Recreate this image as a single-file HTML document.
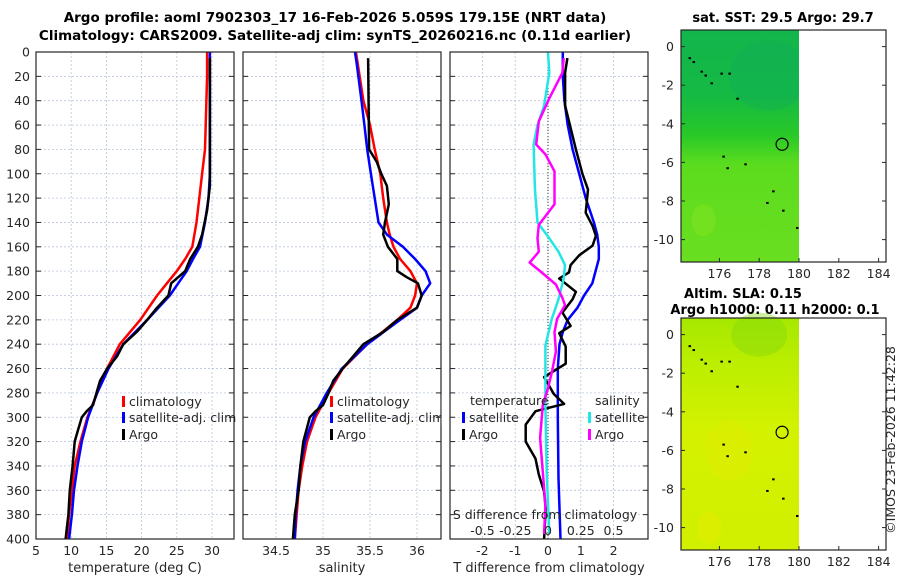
<!DOCTYPE html>
<html><head><meta charset="utf-8">
<style>
html,body{margin:0;padding:0;background:#fff;}
svg{display:block;font-family:"DejaVu Sans","Liberation Sans",sans-serif;}
</style></head>
<body>
<svg id="fig" width="900" height="580" viewBox="0 0 900 580">
<text x="335" y="22" font-size="13.5" font-weight="bold" text-anchor="middle">Argo profile: aoml 7902303_17 16-Feb-2026 5.059S 179.15E (NRT data)</text>
<text x="335" y="40" font-size="13.5" font-weight="bold" text-anchor="middle">Climatology: CARS2009. Satellite-adj clim: synTS_20260216.nc (0.11d earlier)</text>
<g id="g"></g>
</svg>
<script>
// depth levels (m)
const depthClim = [0,20,40,60,80,100,120,140,160,170,180,190,200,220,240,260,280,300,320,340,360,380,400];
const tempClim  = [29.3,29.3,29.2,29.1,29.0,28.6,28.2,27.8,27.2,26.2,25.0,23.6,22.2,19.8,16.9,15.1,13.7,12.3,11.3,10.5,10.1,9.7,9.4];
const tempSat   = [29.7,29.7,29.7,29.7,29.7,29.7,29.5,29.0,28.3,27.3,26.4,25.2,24.0,20.8,17.4,15.3,13.7,12.4,11.5,10.9,10.4,10.1,9.7];
const depthArgoT = [5,50,110,130,150,160,170,180,185,190,200,210,220,230,240,250,260,270,280,290,295,300,310,320,340,360,380,400];
const tempArgo   = [29.7,29.7,29.7,29.3,28.6,28.0,26.9,26.2,25.2,24.2,23.8,22.2,20.8,19.3,17.4,16.5,15.1,14.1,13.6,13.1,12.2,11.5,11.0,10.5,10.2,9.8,9.6,9.2];
const depthS = [0,10,40,60,80,100,120,140,150,160,170,180,190,200,210,220,240,260,280,300,320,340,360,380,400];
const salClim = [35.35,35.37,35.43,35.5,35.55,35.61,35.64,35.68,35.71,35.75,35.82,35.93,36.0,35.98,35.93,35.79,35.47,35.21,35.06,34.92,34.83,34.78,34.74,34.72,34.70];
const salSat  = [35.34,35.36,35.41,35.44,35.47,35.51,35.55,35.59,35.68,35.85,35.98,36.09,36.14,36.05,36.0,35.82,35.47,35.2,35.04,34.9,34.81,34.76,34.73,34.71,34.70];
const depthArgoS = [5,80,90,100,110,125,140,150,160,170,180,185,190,200,210,220,230,240,250,260,270,280,290,295,300,320,340,360,380,400];
const salArgo    = [35.48,35.49,35.57,35.62,35.68,35.7,35.66,35.64,35.69,35.79,35.79,35.89,36.01,36.05,36.0,35.79,35.64,35.43,35.32,35.21,35.11,35.06,35.0,34.92,34.86,34.79,34.76,34.74,34.7,34.68];
// differences from climatology
const depthDT = [0,20,40,60,80,100,120,140,150,160,170,180,190,200,210,220,230,240,260,300,350,400];
const dTSat   = [0.45,0.45,0.5,0.6,0.75,0.95,1.15,1.4,1.5,1.55,1.55,1.45,1.35,1.1,0.9,0.6,0.45,0.35,0.3,0.3,0.32,0.38];
const depthDTA = [5,17,44,80,100,113,132,143,151,159,167,175,181,186,197,203,214,225,231,242,256,267,281,289,295,306,320,334,347,361,375,400];
const dTArgo   = [0.59,0.52,0.52,0.85,1.05,1.22,1.15,1.36,1.46,1.36,0.95,0.69,0.64,0.34,0.85,0.75,0.44,0.69,0.34,0.54,0.54,-0.12,0.18,0.49,-0.38,-0.68,-0.68,-0.38,-0.28,-0.12,-0.07,-0.12];
const depthDSA = [5,17,38,57,76,84,98,112,125,142,153,164,173,180,191,202,208,219,230,246,263,276,290,317,345,372,396];
const dSArgo   = [0.12,0.11,0.01,-0.07,-0.09,-0.02,0.05,0.05,0.05,-0.07,-0.08,-0.07,-0.14,-0.06,0.06,0.11,0.13,0.07,0.05,0.06,0.03,0.0,-0.04,-0.06,-0.04,-0.02,-0.03];
const depthDSS = [0,17,44,60,76,112,140,153,164,175,186,203,219,241,263,290,345,396];
const dSSat    = [0.0,0.01,-0.03,-0.08,-0.11,-0.10,-0.08,0.01,0.08,0.13,0.12,0.08,0.03,-0.02,-0.02,-0.02,-0.01,0.01];
const depthTicks = [0,20,40,60,80,100,120,140,160,180,200,220,240,260,280,300,320,340,360,380,400];
const tempTicks = [5,10,15,20,25,30];
const salTicks = [34.5,35,35.5,36];
const salTickLabels = ["34.5","35","35.5","36"];
const dTTicks = [-2,-1,0,1,2];
const dSTicks = [-0.5,-0.25,0,0.25,0.5];
const dSTickLabels = ["-0.5","-0.25","0","0.25","0.5"];
const lonTicks = [176,178,180,182,184];
const latTicks = [0,-2,-4,-6,-8,-10];

const NS="http://www.w3.org/2000/svg";
const G=document.getElementById('g');
function mk(tag,attrs,parent){const e=document.createElementNS(NS,tag);for(const k in attrs)e.setAttribute(k,attrs[k]);(parent||G).appendChild(e);return e;}
function txt(x,y,s,size,anchor,parent){const e=mk('text',{x:x,y:y,'font-size':size,'text-anchor':anchor||'middle',fill:'#262626'},parent);e.textContent=s;return e;}

const TOP=52,BOT=539;
const yD=d=>TOP+(d-0)*(BOT-TOP)/400;

function panel(name,x0,x1,xf,ticks,labels,xlabel){
  const p=mk('g',{});
  
  
  depthTicks.forEach(d=>{const l=mk('line',{x1:x0,x2:x1,y1:yD(d),y2:yD(d),stroke:'#b8c4dc','stroke-width':0.8,'stroke-dasharray':'2,2'},p);
    
    mk('line',{x1:x0,x2:x0+5,y1:yD(d),y2:yD(d),stroke:'#262626'},p);mk('line',{x1:x1-5,x2:x1,y1:yD(d),y2:yD(d),stroke:'#262626'},p);});
  ticks.forEach((t,i)=>{const x=xf(t);const l=mk('line',{x1:x,x2:x,y1:TOP,y2:BOT,stroke:'#b8c4dc','stroke-width':0.8,'stroke-dasharray':'2,2'},p);
    
    if(labels){const tl=txt(x,555,labels[i],12.5,'middle',p);}});
  if(xlabel){const xl=txt((x0+x1)/2,572,xlabel,13,'middle',p);}
  return p;
}
function frame(p,x0,x1){const r=mk('rect',{x:x0,y:TOP,width:x1-x0,height:BOT-TOP,fill:'none',stroke:'#262626','stroke-width':1.2},p);
  }
function line(p,xs,ds,xf,color,w,name){
  const pts=xs.map((v,i)=>xf(v).toFixed(1)+','+yD(ds[i]).toFixed(1)).join(' ');
  const e=mk('polyline',{points:pts,fill:'none',stroke:color,'stroke-width':w,'stroke-linejoin':'round'},p);
  return e;}
function legend(p,x,y,color,label,name){
  mk('rect',{x:x,y:y-9,width:3,height:11,fill:color},p);
  const t=txt(x+7,y+1,label,12.5,'start',p);
  }

depthTicks.forEach(d=>{const t=txt(30,yD(d)+4.5,String(d),12.5,'end');
  });

const xT=t=>36+(t-5)*7.04;
const p1=panel('temperature-panel',36,234,xT,tempTicks,tempTicks.map(String),'temperature (deg C)');
line(p1,tempClim,depthClim,xT,'#ff0000',2.5,'temp-climatology-line');
line(p1,tempSat,depthClim,xT,'#0000ff',2.5,'temp-satellite-line');
line(p1,tempArgo,depthArgoT,xT,'#000000',2.5,'temp-argo-line');
frame(p1,36,234);
legend(p1,122,405,'#ff0000','climatology','legend-climatology');
legend(p1,122,421,'#0000ff','satellite-adj. clim','legend-satellite-adj');
legend(p1,122,438,'#000000','Argo','legend-argo');

const xS=s=>323+(s-35)*94;
const p2=panel('salinity-panel',243,441,xS,salTicks,salTickLabels,'salinity');
line(p2,salClim,depthS,xS,'#ff0000',2.5,'sal-climatology-line');
line(p2,salSat,depthS,xS,'#0000ff',2.5,'sal-satellite-line');
line(p2,salArgo,depthArgoS,xS,'#000000',2.5,'sal-argo-line');
mk('rect',{x:441.6,y:395,width:8,height:30,fill:'#fff'});
frame(p2,243,441);
legend(p2,330,405,'#ff0000','climatology','legend-climatology-2');
legend(p2,330,421,'#0000ff','satellite-adj. clim','legend-satellite-adj-2');
legend(p2,330,438,'#000000','Argo','legend-argo-2');

const xDT=t=>548+t*32.8;
const xDS=s=>548+s*131;
const p3=panel('difference-panel',450,648,xDT,dTTicks,dTTicks.map(String),'T difference from climatology');
const zl=mk('line',{x1:548,x2:548,y1:TOP,y2:BOT,stroke:'#333','stroke-width':1,'stroke-dasharray':'1,2'},p3);

line(p3,dTSat,depthDT,xDT,'#0000ff',2.5,'dT-satellite-line');
line(p3,dTArgo,depthDTA,xDT,'#000000',2.5,'dT-argo-line');
line(p3,dSSat,depthDSS,xDS,'#22e6e6',2.5,'dS-satellite-line');
line(p3,dSArgo,depthDSA,xDS,'#ff00ff',2.5,'dS-argo-line');
frame(p3,450,648);
const tt=txt(470,405,'temperature',12.5,'start',p3);
const st=txt(595,405,'salinity',12.5,'start',p3);
legend(p3,462,421,'#0000ff','satellite','legend-t-satellite');
legend(p3,462,438,'#000000','Argo','legend-t-argo');
legend(p3,588,421,'#22e6e6','satellite','legend-s-satellite');
legend(p3,588,438,'#ff00ff','Argo','legend-s-argo');
const sdl=txt(545,519,'S difference from climatology',12.5,'middle',p3);
dSTicks.forEach((s,i)=>{const t=txt(xDS(s),535,dSTickLabels[i],12.5,'middle',p3);});

const MX0=681,MX1=886;
const lonX=l=>MX0+(l-174.07)*19.9;
function map(name,top,bot,titleLines,topCols,botCols){
  const m=mk('g',{});
  
  const lat0=top+16.6, latStep=(19.3);
  const latY=la=>lat0-la*latStep;
  const gid=name+'-grad';
  const defs=mk('defs',{},m);
  const lg=mk('linearGradient',{id:gid,x1:0,y1:0,x2:0,y2:1},defs);
  topCols.forEach((c,i)=>mk('stop',{offset:c[0],'stop-color':c[1]},lg));
  const r=mk('rect',{x:MX0,y:top,width:lonX(180)-MX0,height:bot-top,fill:'url(#'+gid+')'},m);
  
  botCols.forEach(b=>{mk('ellipse',{cx:lonX(b[0]),cy:latY(b[1]),rx:b[2],ry:b[3],fill:b[4],opacity:b[5]},m);});
  mk('rect',{x:lonX(180),y:top,width:MX1-lonX(180),height:bot-top,fill:'#fff'},m);
  [[174.5,-0.6],[174.7,-0.8],[175.1,-1.3],[175.3,-1.5],[175.6,-1.9],[176.1,-1.4],[176.5,-1.4],[176.9,-2.7],[176.2,-5.7],[176.4,-6.3],[177.3,-6.1],[178.7,-7.5],[178.4,-8.1],[179.2,-8.5],[179.9,-9.4]].forEach(p=>{
    mk('rect',{x:lonX(p[0])-1,y:latY(p[1])-1,width:2.5,height:2,fill:'#000'},m);});
  const c=mk('circle',{cx:lonX(179.15),cy:latY(-5.06),r:6,fill:'none',stroke:'#000','stroke-width':1.2},m);
  
  const f=mk('rect',{x:MX0,y:top,width:MX1-MX0,height:bot-top,fill:'none',stroke:'#262626','stroke-width':1.2},m);
  
  latTicks.forEach(la=>{const y=latY(la);mk('line',{x1:MX0,x2:MX0+4,y1:y,y2:y,stroke:'#262626'},m);mk('line',{x1:MX1-4,x2:MX1,y1:y,y2:y,stroke:'#262626'},m);
    const t=txt(674,y+4.5,String(la),12.5,'end',m);});
  lonTicks.forEach(lo=>{const x=lonX(lo);mk('line',{x1:x,x2:x,y1:bot-4,y2:bot,stroke:'#262626'},m);
    const t=txt(x,bot+16,String(lo),12.5,'middle',m);});
  titleLines.forEach((s,i)=>{const t=txt(s[1],s[2],s[0],13,'middle',m);t.setAttribute('font-weight','bold');t.setAttribute('fill','#000');});
}
map('sst-map',30,262,[['sat. SST: 29.5 Argo: 29.7',783,22]],
  [[0,'#12b54c'],[0.28,'#14ba44'],[0.45,'#28c828'],[0.58,'#5cdc1e'],[1,'#6ade20']],
  [[178.5,-1.5,40,35,'#10a860',0.3],[175.2,-9,12,16,'#8ee820',0.35]]);
map('sla-map',318,550,[['Altim. SLA: 0.15',743,298],['Argo h1000: 0.11 h2000: 0.1',775,314]],
  [[0,'#a6e800'],[0.2,'#bcee00'],[0.5,'#d4f200'],[1,'#d0f000']],
  [[178,0,28,22,'#80d810',0.4],[176.5,-6,24,30,'#e4ec00',0.4],[175.5,-10,12,16,'#eeea00',0.4]]);
const cp=mk('text',{x:0,y:0,'font-size':12.5,fill:'#262626','text-anchor':'middle',transform:'translate(895,440) rotate(-90)'});
cp.textContent='©IMOS 23-Feb-2026 11:42:28';


</script>
</body></html>
